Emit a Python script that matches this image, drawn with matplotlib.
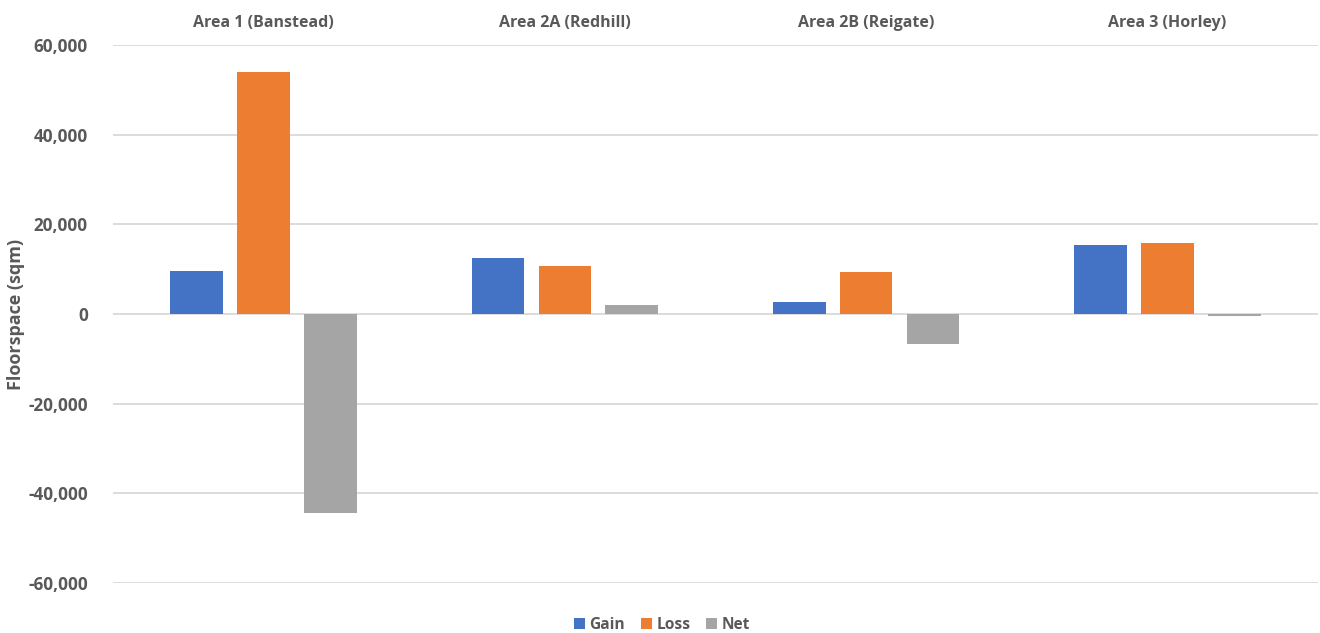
import matplotlib.pyplot as plt
import numpy as np

# floorspace change by area (sqm)
areas = ["Area 1 (Banstead)", "Area 2A (Redhill)", "Area 2B (Reigate)", "Area 3 (Horley)"]
gain = [9500, 12600, 2600, 15300]
loss = [53900, 10700, 9400, 15800]
net = [-44400, 1900, -6800, -500]

series = [("Gain", gain, "#4472C4"), ("Loss", loss, "#ED7D31"), ("Net", net, "#A5A5A5")]
text_col = "#595959"

plt.rcParams['font.family'] = ['Open Sans', 'DejaVu Sans']

fig = plt.figure(figsize=(13.2, 6.33), dpi=100)
ax = fig.add_axes([113 / 1320, 1 - 583 / 633, 1205 / 1320, 538 / 633])

x = np.arange(len(areas))
width = 0.175
step = 0.222
for i, (name, vals, col) in enumerate(series):
    ax.bar(x + (i - 1) * step, vals, width, color=col, label=name, zorder=3)

ax.set_xlim(-0.5, len(areas) - 0.5)
ax.set_ylim(-60000, 60000)
ax.set_yticks(np.arange(-60000, 60001, 20000))
ax.yaxis.set_major_formatter(plt.FuncFormatter(lambda v, p: f"{v:,.0f}"))
ax.grid(axis="y", color="#d9d9d9", linewidth=1.3, zorder=0)
for s in ax.spines.values():
    s.set_visible(False)

ax.xaxis.tick_top()
ax.set_xticks(x)
ax.set_xticklabels(areas, fontsize=11.5, fontweight="bold", color=text_col)
ax.tick_params(axis="x", length=0, pad=10)
ax.tick_params(axis="y", length=0, pad=18, labelsize=12.3, labelcolor=text_col)
for t in ax.get_yticklabels():
    t.set_fontweight("bold")

ax.set_ylabel("Floorspace (sqm)", fontsize=13, fontweight="bold", color=text_col)
ax.yaxis.set_label_coords((25 - 113) / 1205, 0.5)

leg = fig.legend(loc="center", bbox_to_anchor=(662 / 1320, 1 - 625 / 633), ncol=3, frameon=False,
                 handlelength=0.7, handleheight=0.7, handletextpad=0.3, columnspacing=1.0,
                 prop={"size": 11.2, "weight": "bold"})
for t in leg.get_texts():
    t.set_color(text_col)

fig.savefig("out.png", dpi=100, facecolor="white")
